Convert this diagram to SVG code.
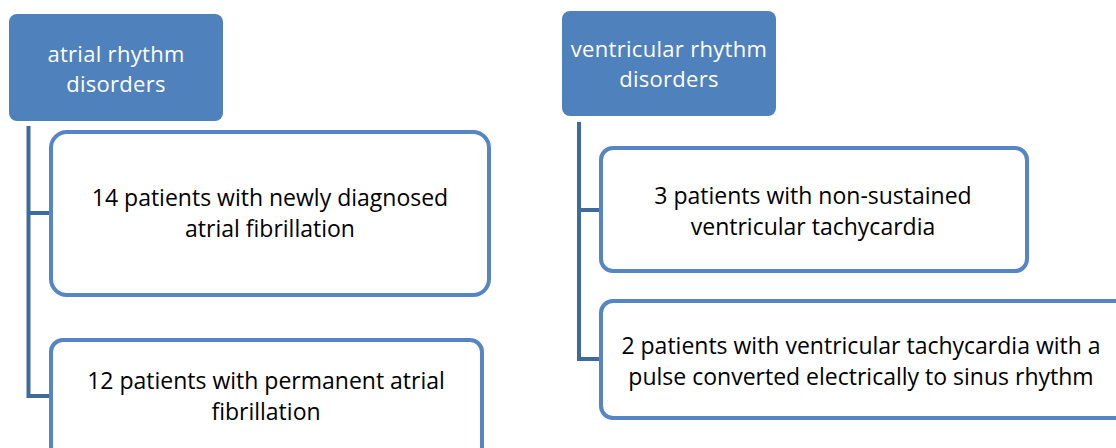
<svg xmlns="http://www.w3.org/2000/svg" width="1116" height="448" viewBox="0 0 1116 448">
<style>
.hdr{fill:#4F81BD;stroke:none}
.box{fill:#fff;stroke:#5585C5;stroke-width:4}
.hd{font-family:"Open Sans","Liberation Sans",sans-serif;font-size:22px;letter-spacing:0.3px;fill:#fff;text-anchor:middle}
.tx{font-family:"Open Sans","Liberation Sans",sans-serif;font-size:23px;fill:#000;text-anchor:middle}
.con{fill:none;stroke:#3E6A9E;stroke-width:4}
</style>
<rect width="1116" height="448" fill="#fff"/>
<g id="connectors">
<path class="con" d="M28.5,126 V396 H52 M28.5,213 H52"/>
<path class="con" d="M579,122 V359 H602 M579,210 H602"/>
</g>
<g id="atrial">
<rect class="hdr" x="9" y="14" width="214" height="107" rx="8"/>
<text class="hd" x="116" y="62">atrial rhythm</text>
<text class="hd" x="116" y="92">disorders</text>
</g>
<g id="newly">
<rect class="box" x="51" y="132" width="438" height="163" rx="16"/>
<text class="tx" x="270" y="206">14 patients with newly diagnosed</text>
<text class="tx" x="270" y="237">atrial fibrillation</text>
</g>
<g id="permanent">
<rect class="box" x="51" y="340" width="431" height="130" rx="12"/>
<text class="tx" x="266" y="389">12 patients with permanent atrial</text>
<text class="tx" x="266" y="420">fibrillation</text>
</g>
<g id="ventricular">
<rect class="hdr" x="562" y="11" width="214" height="105" rx="8"/>
<text class="hd" x="669" y="57">ventricular rhythm</text>
<text class="hd" x="669" y="87">disorders</text>
</g>
<g id="nonsustained">
<rect class="box" x="601" y="148" width="426" height="123" rx="12"/>
<text class="tx" x="813" y="204">3 patients with non-sustained</text>
<text class="tx" x="813" y="235">ventricular tachycardia</text>
</g>
<g id="pulse">
<rect class="box" x="601" y="301" width="540" height="117" rx="12"/>
<text class="tx" x="861" y="354">2 patients with ventricular tachycardia with a</text>
<text class="tx" x="861" y="385">pulse converted electrically to sinus rhythm</text>
</g>
</svg>
